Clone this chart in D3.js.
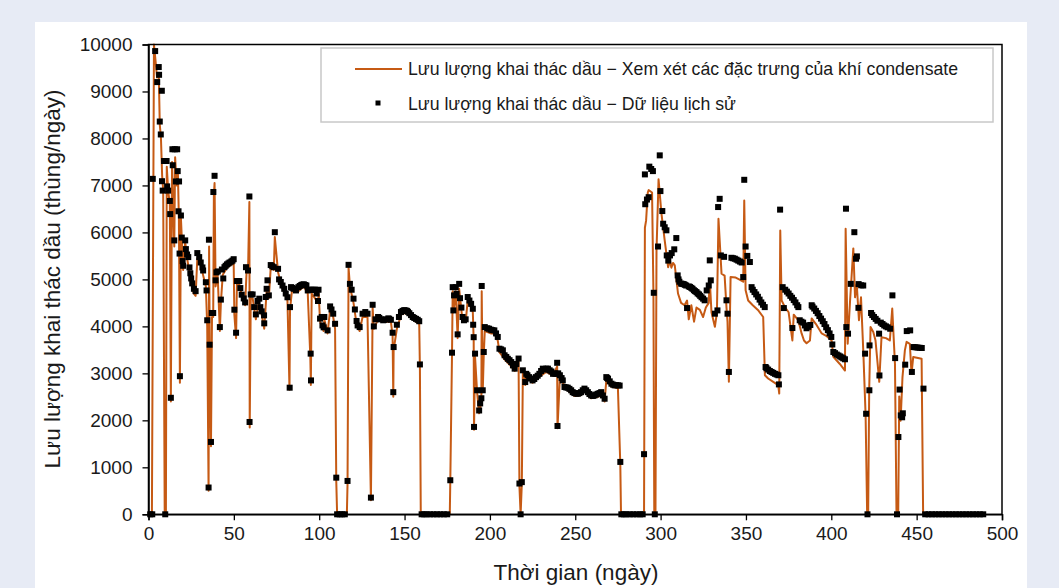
<!DOCTYPE html>
<html>
<head>
<meta charset="utf-8">
<script src="https://cdn.jsdelivr.net/npm/d3@7"></script>
<style>
  body { margin: 0; background: #e7ebf5; }
  svg { display: block; font-family: 'Liberation Sans', Arial, sans-serif; }
</style>
</head>
<body>
<svg id="canvas" width="1059" height="588"></svg>
<script>
// lịch sử khai thác: [ngày, thùng/ngày]
let historyData = [
  [1,0],[2.2,0],[2.5,7140],[3.9,9860],[5.1,9200],[6,9520],[6.2,9355],[6.6,8360],[7.2,8085],[7.8,9015],[7.9,7090],[8.3,6890],[9.1,7520],[9.8,0],
  [10.6,7520],[10.9,6980],[11.5,6890],[12.5,6670],[12.7,6390],[13.1,2480],[14,7770],[14.2,7430],[15.1,5830],[15.4,7770],[16,7085],[16.8,7770],
  [17.1,7305],[17.6,6450],[17.9,7085],[18.2,5550],[18.4,2940],[19,6360],[19.5,5890],[20,5390],[20.3,5290],[21.5,5830],[21.9,5645],[22.6,5530],
  [23.3,5475],[24,5255],[24.5,5130],[25,5020],[25.6,4915],[26.6,4800],[27.6,4750],[28.6,5560],[29.7,5475],[30.6,5360],[31.6,5255],[32,5190],
  [33.6,4940],[34,4765],[34.4,4130],[35.2,570],[35.4,5845],[35.8,3610],[36.6,1540],[37.1,4285],[37.9,4285],[38,6860],[38.7,7205],[39.3,4980],
  [39.8,5150],[40.6,5170],[41.8,3985],[42.4,4570],[43,5210],[43.8,5020],[44.5,5260],[46,5320],[47.5,5360],[48.5,5380],[49.9,5430],[50.3,4355],
  [51.3,3865],[51.8,4965],[53.2,4965],[53.8,4815],[54.6,4675],[55.8,4595],[56.6,4510],[57.1,5260],[58.3,5190],[59.1,6765],[59.2,1965],[59.9,4680],
  [61,4680],[61.9,4410],[62.9,4255],[63.9,4540],[64.9,4590],[65.5,4410],[66.3,4320],[67.7,4235],[67.8,4065],[68.7,4625],[69.2,4800],[69.7,4980],
  [70.5,4660],[71.6,5305],[72.5,5280],[73.4,5260],[74,6005],[75.9,5225],[76.5,5000],[77.5,4945],[78.5,4870],[79.5,4800],[80.4,4700],[81.4,4620],
  [82.7,2695],[82.9,4410],[83.5,4835],[85,4800],[86.4,4765],[87.8,4835],[89.5,4880],[91,4895],[92.5,4870],[93.3,4765],[95,3420],[95.2,2850],
  [95.6,4780],[97.5,4780],[99.3,4540],[99.6,4780],
  [100.5,4165],[101.5,4200],[101.9,4020],[102.6,3980],[103,4200],[104.9,3915],[106.4,4425],[107.2,4360],[108.2,4270],[109.3,4055],[110,780],
  [110.5,0],[112,0],[113.5,0],[115,0],[116.6,710],[117.2,5310],[118,4905],[119,4780],[120.1,4590],[120.9,4360],[121.9,4115],[122.5,4020],
  [123.7,3985],[125.4,4270],[127,4305],[128.3,4270],[130.3,355],[131.3,4460],[132,4000],[133,4150],[134.5,4200],[136,4150],[137.5,4130],
  [139,4150],[140.5,4170],[142,4140],[143,3865],[143.4,2600],[143.6,3560],[145.5,4035],[147.9,4305],[149.8,4345],[151.4,4330],[152.8,4280],
  [154.8,4200],[156.7,4160],[158.6,4110],[159,3190],[160,0],[161.5,0],[163,0],[165,0],[167,0],[169,0],[171,0],[173,0],[175,0],
  [176.8,725],[177.8,3440],[178.2,4835],[178.6,4340],[179,4660],[180,4835],[180.5,4695],[181.1,3830],[182,4905],[182.5,4600],[183.3,4400],
  [184,4200],[184.8,4130],[185.8,4150],[187,4625],[188,4550],[189,4480],[190,4375],[190.2,4035],[190.5,3770],[190.7,1860],[191.3,3420],
  [192.5,2640],[193.7,2210],[194.3,2360],[195,2470],[195.2,4860],[195.8,2640],[196.4,3455],[197,3985],[198.5,3960],[200.5,3930],[202.6,3915],
  [204.6,3775],[205.6,3525],[207.6,3490],[208.6,3385],[210.5,3310],[212.5,3240],[214.5,3100],[216.8,3315],[217.3,655],[218,0],[218.7,685],
  [219.3,3065],[220.7,2815],[221.3,2990],[223,2920],[225,2850],[227,2920],[229,2990],[231,3100],[233,3100],[235,3065],[237,2990],[239,2990],
  [239.4,3225],[239.6,1880],[241,2960],[242.7,2850],[243.7,2710],[245.6,2695],[247.6,2640],[249.5,2580],[251.5,2565],[253.4,2600],[255.4,2675],
  [257.4,2600],[259.3,2530],[261.3,2530],[263.2,2565],[265.2,2600],[267.2,2460],[268.2,2920],[269.2,2885],[271.2,2780],[273.1,2745],[275,2745],
  [276.4,1115],[277,0],[278.5,0],[280,0],[282,0],[284,0],[286,0],[288,0],[289.5,0],
  [290.3,1280],[290.8,7235],[291,6600],[292,6700],[293,6750],[293.4,7400],[294.5,7350],[295.5,7305],[296,4715],[296.6,0],[298.5,5700],
  [299.5,7640],[299.9,6880],[301,6455],[301.5,6185],[302.4,6110],[303.4,6045],[303.6,5510],[304.5,5400],[305.5,5510],[306.5,5560],[308,5640],
  [309.2,5880],[310,5085],[311,4950],[312,4910],[313.5,4900],[315,4870],[315.5,4390],[316.5,4850],[318,4820],[319.5,4770],[321,4730],
  [322.5,4680],[324,4620],[325.8,4555],[327,4765],[328.2,4870],[328.8,5405],[329.4,4980],[331.8,4270],[333.3,4340],[333.7,6540],[334.6,6715],
  [335.3,5510],[337.2,5480],[338.6,4555],[339.2,4270],[340,3030],[341.5,5460],[343.5,5440],[345.5,5400],[347.5,5360],[348.4,5050],[349,7120],
  [349.8,5700],[350.8,5500],[352.3,5370],[353.3,4835],[355,4730],[357,4630],[359,4510],[361,4410],[361.5,3135],[363,3080],[365,3030],[367,2990],
  [369,2960],[369.3,2765],[370,6485],[371.5,4835],[372.2,4390],[373,4780],[375,4700],[377,4610],[377.2,3965],[379,4510],[380.7,4410],
  [381.5,4130],[383.5,4080],[385.5,3960],[387.7,4030],[388.5,4450],[390,4380],[392,4280],[394,4165],[396,4050],[398,3920],[400,3775],
  [400.6,3615],[401.2,3455],[403.2,3400],[405.2,3360],[407,3320],[408,3300],[408.6,6505],[408.8,3985],[409.8,3845],[411.4,4905],[413.5,6005],
  [414.5,5440],[415,5490],[415.9,4395],[416,4900],[417.5,4875],[418.7,4870],[419.8,3420],[420.4,2140],[421.2,0],[422.3,2640],[422.4,3595],
  [423.3,4285],[425,4200],[427,4120],[428,3845],[428.2,2955],[430,4050],[432,4000],[434.5,3950],[435.8,4660],[437.4,3325],[438.5,0],
  [439.3,1645],[440,2655],[440.7,2105],[441.5,2065],[441.9,2150],[443.3,3185],[444.2,3900],[446.2,3915],[447.2,3030],[448.2,3560],[450.5,3550],
  [453,3540],[454,2675],[455,0],[457,0],[459,0],[461,0],[463,0],[465,0],[467,0],[469,0],[471,0],[473,0],[475,0],[477,0],[479,0],[481,0],
  [483,0],[485,0],[487,0],[489,0],
  // các điểm đo dày đặc xen giữa
  [45.2,5290],[46.8,5340],[49.2,5400],[84.2,4820],[88.6,4860],[90.2,4890],[91.8,4880],[94,4780],[96.5,4780],[98.5,4700],
  [135.2,4180],[138.2,4140],[141,4160],[146.7,4200],[148.8,4330],[150.6,4340],[152,4310],[153.8,4240],[155.7,4180],[157.7,4140],
  [199.5,3950],[201.5,3920],[203.6,3850],[206.6,3510],[209.6,3350],[211.5,3280],[213.5,3170],[215.5,3200],
  [222,2960],[224,2890],[226,2880],[228,2950],[230,3050],[232,3080],[234,3100],[236,3040],[238,3000],[240,3000],[242,2900],
  [244.7,2700],[246.6,2670],[248.5,2600],[250.5,2570],[252.4,2580],[254.4,2640],[256.4,2640],[258.3,2560],[260.3,2520],[262.3,2550],
  [264.2,2580],[266.2,2530],[268.7,2900],[270.2,2830],[272.2,2760],[274,2750],[276,2740],
  [310.5,5000],[312.7,4905],[314.2,4885],[317.2,4840],[318.7,4800],[320.2,4750],[321.7,4700],[323.2,4650],[324.9,4590],
  [342.5,5450],[344.5,5420],[346.5,5380],[354,4780],[356,4680],[358,4570],[360,4460],[362,3110],[364,3050],[366,3010],[368,2975],
  [374,4740],[376,4650],[378,4560],[380,4450],[382.5,4100],[384.5,4020],[386.5,3990],[389,4420],[391,4330],[393,4220],[395,4110],
  [397,3980],[399,3850],[402.2,3430],[404.2,3380],[406,3340],[424,4240],[426,4160],[429,4080],[431,4020],[433,3980],[449.3,3555],[451.7,3545]
]

// mô hình có xét đặc trưng khí condensate: [ngày, thùng/ngày]
let modelData = [
  [0,0],[2,0],[3.2,10000],[4,9700],[5,9300],[6,9400],[6.6,8300],[7.3,8000],[8,7200],[8.6,6900],[9.5,0],[10.2,0],[10.7,7400],[11.5,6900],
  [12.5,6600],[13.1,2400],[13.8,7500],[15.1,5700],[15.6,7600],[16.5,7000],[17.2,7300],[17.8,6300],[18.4,2800],[19,6300],[19.6,5800],
  [20.3,5200],[21.5,5800],[22.6,5450],[24,5150],[25,4950],[26.5,4700],[27.6,4650],[28.6,5450],[30,5400],[31.6,5150],[33.6,4850],[34.4,4000],
  [35.2,500],[35.5,5700],[35.9,3500],[36.6,1450],[37.2,4200],[37.9,4200],[38.3,6800],[38.7,7050],[39.3,4850],[40.5,5100],[41.8,3900],
  [42.4,4500],[43.5,5100],[46,5250],[49.9,5350],[50.3,4250],[51.3,3750],[51.8,4900],[53.2,4900],[55,4600],[56.6,4450],[57.5,5200],[58.3,5150],
  [59.1,6650],[59.3,1850],[59.9,4600],[61,4600],[62.9,4150],[64.5,4500],[66.3,4250],[67.8,3950],[69.2,4750],[70.5,4600],[71.6,5250],
  [73.4,5200],[74,5900],[75.9,5150],[78,4850],[81.4,4550],[82.6,2650],[82.9,4350],[84,4750],[87.8,4750],[91,4850],[93.3,4700],[94.8,3350],
  [95.1,2750],[95.6,4700],[99.3,4500],[99.7,4700],
  [100.5,4100],[102.6,3900],[103,4150],[104.9,3850],[106.4,4350],[108.2,4200],[109.3,3950],[110,700],[110.5,0],[116.2,0],[116.6,650],
  [117.2,5250],[118,4850],[120.1,4500],[121.9,4050],[123.7,3900],[125.4,4200],[128.3,4200],[130.3,300],[131.3,4400],[132,3950],[134.5,4150],
  [139,4100],[142,4100],[143,3800],[143.4,2500],[143.6,3500],[145.5,3950],[148,4250],[151.4,4300],[154.8,4150],[158.6,4050],[159,3100],
  [159.5,0],[176.5,0],
  [176.8,700],[177.8,3400],[178.2,4750],[178.6,4300],[180,4750],[181.1,3750],[182,4800],[184,4100],[185.8,4100],[187,4550],[189,4400],
  [190,4300],[190.5,3700],[190.7,1800],[191.3,3350],[192.5,2600],[193.7,2150],[195,2400],[195.2,4750],[195.8,2600],[196.4,3400],[197,3900],
  [200.5,3850],[202.6,3850],[204.6,3700],[205.6,3450],[208.6,3300],[212.5,3150],[214.5,3050],[216.8,3250],[217.3,600],[218,0],[218.7,650],
  [219.3,3000],[220.7,2750],[221.3,2930],[225,2800],[229,2930],[233,3030],[237,2950],[239.4,3150],[239.6,1830],[241,2930],[242.7,2800],
  [245.6,2640],[249.5,2520],[253.4,2540],[255.4,2620],[259.3,2470],[263.2,2500],[265.2,2540],[267.2,2400],[268.2,2850],[271.2,2720],
  [275,2680],[276.4,1050],[276.8,0],[290.3,0],
  [290.8,6100],[291.5,6250],[292.5,6850],[293,6900],[295,6850],[295.8,4700],[296.3,0],[297,0],[297.6,5600],[298.8,7130],[300.5,6400],
  [302.4,5830],[304.4,5260],[305.5,5400],[306.3,5250],[307.3,5350],[308.3,5300],[309.3,4980],[310.2,4700],[312,4500],[314,4450],[315.5,4550],
  [316.5,4150],[318,4450],[319.6,4100],[321,4400],[323,4350],[324.9,4200],[326.5,4400],[328.2,4500],[328.8,5000],[329.8,4300],[331.8,3990],
  [333,4300],[333.9,6290],[335.7,5120],[337.5,5080],[338.6,4400],[339.2,4100],[340,2820],[341,5050],[344,5040],[346,5000],[348.4,4950],
  [349,6680],[349.8,4770],[351.3,4550],[354,4450],[357,4350],[360.1,4200],[361.1,2960],[363,2890],[366,2820],[368.9,2750],[369.5,2570],
  [370.1,6040],[370.9,4550],[373,4400],[375,4300],[377.2,3700],[378,4250],[380.7,4130],[382.6,3850],[384,3700],[385.5,3640],[387.5,3700],
  [388.5,4170],[391,4050],[394.4,3850],[397,3800],[400.2,3700],[401.2,3350],[405,3200],[408,3060],[408.4,6080],[409.6,3630],[411,4550],
  [412.9,5660],[413.9,4620],[414.9,4900],[416.2,4130],[417.4,4620],[418.8,3420],[420.1,2100],[421,0],[421.6,0],[422.2,2640],[423,3985],
  [424.6,3880],[425.9,3700],[428.1,2820],[429.4,3770],[432,3750],[434.3,3700],[435.7,4380],[437.3,3200],[438.2,0],[439.2,0],[439.8,2510],
  [440.6,1990],[441.7,2920],[443.1,3490],[444.1,3670],[446,3630],[447,2990],[448,3350],[452.9,3310],[453.8,0],[490,0]
]

let xTicks = d3.range(0, 501, 50)
let yTicks = d3.range(0, 10001, 1000)

let legendLabels = [
  'Lưu lượng khai thác dầu − Xem xét các đặc trưng của khí condensate',
  'Lưu lượng khai thác dầu − Dữ liệu lịch sử'
]
let xTitle = 'Thời gian (ngày)'
let yTitle = 'Lưu lượng khai thác dầu (thùng/ngày)'

let canvas = d3.select('#canvas')
let lineColor = '#c65a14'

// nền trắng
canvas.append('rect')
  .attr('x', 35).attr('y', 22)
  .attr('width', 992).attr('height', 580)
  .attr('fill', '#ffffff')

let xScale = d3.scaleLinear().domain([0, 500]).range([148.5, 1002])
let yScale = d3.scaleLinear().domain([0, 10000]).range([514.3, 44.5])

let clip = canvas.append('clipPath').attr('id', 'plotclip')
clip.append('rect').attr('x', 140).attr('y', 40).attr('width', 870).attr('height', 480)

let plot = canvas.append('g').attr('clip-path', 'url(#plotclip)')

let line = d3.line()
  .x((d) => xScale(d[0]))
  .y((d) => yScale(d[1]))

plot.append('path')
  .datum(modelData)
  .attr('d', line)
  .attr('fill', 'none')
  .attr('stroke', lineColor)
  .attr('stroke-width', 2)
  .attr('stroke-linejoin', 'round')

let ms = 6
plot.selectAll('rect.pt')
  .data(historyData)
  .enter()
  .append('rect')
  .attr('class', 'pt')
  .attr('x', (d) => xScale(d[0]) - ms / 2)
  .attr('y', (d) => yScale(d[1]) - ms / 2)
  .attr('width', ms)
  .attr('height', ms)
  .attr('fill', '#000')

// khung
canvas.append('rect')
  .attr('x', xScale(0)).attr('y', yScale(10000))
  .attr('width', xScale(500) - xScale(0))
  .attr('height', yScale(0) - yScale(10000))
  .attr('fill', 'none')
  .attr('stroke', '#000')
  .attr('stroke-width', 1.5)

let xAxis = canvas.append('g')
  .attr('transform', `translate(0,${yScale(0)})`)
  .call(d3.axisBottom(xScale).tickValues(xTicks).tickSize(6).tickPadding(6).tickFormat(d3.format('d')))
let yAxis = canvas.append('g')
  .attr('transform', `translate(${xScale(0)},0)`)
  .call(d3.axisLeft(yScale).tickValues(yTicks).tickSize(6).tickPadding(10).tickFormat(d3.format('d')))

for (let ax of [xAxis, yAxis]) {
  ax.select('.domain').attr('stroke', '#000').attr('stroke-width', 1.5)
  ax.selectAll('.tick line').attr('stroke', '#000').attr('stroke-width', 1.3)
  ax.selectAll('.tick text')
    .attr('fill', '#1a1a1a')
    .style('font-size', '19px')
    .style('font-family', "'Liberation Sans', Arial, sans-serif")
}

canvas.append('text')
  .attr('x', 576).attr('y', 580)
  .attr('text-anchor', 'middle')
  .style('font-size', '22.5px')
  .attr('fill', '#1a1a1a')
  .text(xTitle)

canvas.append('text')
  .attr('transform', 'translate(60,279) rotate(-90)')
  .attr('text-anchor', 'middle')
  .style('font-size', '22.5px')
  .attr('fill', '#1a1a1a')
  .text(yTitle)

// chú thích
let legend = canvas.append('g')
legend.append('rect')
  .attr('x', 321).attr('y', 48)
  .attr('width', 672).attr('height', 74)
  .attr('fill', '#fff')
  .attr('stroke', '#c8c8c8')
  .attr('stroke-width', 1.5)
legend.append('line')
  .attr('x1', 355).attr('x2', 402)
  .attr('y1', 69).attr('y2', 69)
  .attr('stroke', lineColor)
  .attr('stroke-width', 2)
legend.append('rect')
  .attr('x', 375.5).attr('y', 100.5)
  .attr('width', 5).attr('height', 5)
  .attr('fill', '#000')
legend.selectAll('text.lg')
  .data(legendLabels)
  .enter()
  .append('text')
  .attr('class', 'lg')
  .attr('x', 408)
  .attr('y', (d, i) => 75 + i * 35)
  .style('font-size', '17.7px')
  .attr('fill', '#1a1a1a')
  .text((d) => d)
</script>
</body>
</html>
